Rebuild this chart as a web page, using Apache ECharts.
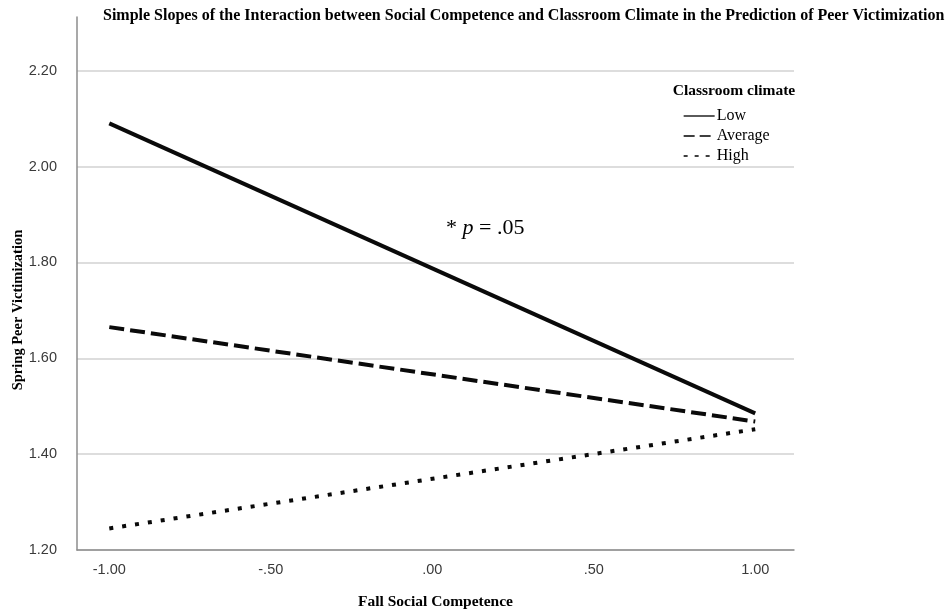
<!DOCTYPE html>
<html>
<head>
<meta charset="utf-8">
<script src="https://cdn.jsdelivr.net/npm/echarts@6/dist/echarts.min.js"></script>
<style>html,body{margin:0;padding:0;background:#fff}#c{width:950px;height:615px}</style>
</head>
<body>
<div id="c"></div>
<script>
var xValues = [-1.00, 1.00];
var lowValues = [2.09, 1.485];
var averageValues = [1.665, 1.468];
var highValues = [1.245, 1.452];
var seriesNames = ['Low', 'Average', 'High'];
var yTicks = ['1.20', '1.40', '1.60', '1.80', '2.00', '2.20'];
var xTicks = ['-1.00', '-.50', '.00', '.50', '1.00'];

function pairs(ys) { return xValues.map(function (x, i) { return [x, ys[i]]; }); }

var serif = '"Liberation Serif", "DejaVu Serif", serif';
var sans = '"Liberation Sans", Arial, sans-serif';
var noSymbol = {color: 'rgba(0,0,0,0)', borderWidth: 0, opacity: 0};

var chart = echarts.init(document.getElementById('c'), null, {renderer: 'canvas'});
chart.setOption({
  backgroundColor: '#fff',
  animation: false,
  title: [
    {text: 'Simple Slopes of the Interaction between Social Competence and Classroom Climate in the Prediction of Peer Victimization',
     left: 98, top: 3, textStyle: {fontFamily: serif, fontWeight: 'bold', fontSize: 16, color: '#000'}},
    {text: 'Classroom climate', left: 729, top: 78, textAlign: 'center',
     textStyle: {fontFamily: serif, fontWeight: 'bold', fontSize: 15.5, color: '#000'}}
  ],
  legend: {
    orient: 'vertical', left: 678, top: 103, itemWidth: 31, itemHeight: 14, itemGap: 4,
    itemStyle: noSymbol,
    textStyle: {fontFamily: serif, fontSize: 16, color: '#000', padding: [0, 0, 0, -3]},
    data: [
      {name: 'Low', itemStyle: noSymbol, lineStyle: {width: 1.3, type: 'solid', color: '#000'}},
      {name: 'Average', itemStyle: noSymbol, lineStyle: {width: 1.3, type: [11, 5], color: '#000'}},
      {name: 'High', itemStyle: noSymbol, lineStyle: {width: 1.3, type: [4, 7], color: '#000'}}
    ]
  },
  grid: {left: 77, right: 156, top: 17, bottom: 56, containLabel: false},
  xAxis: {
    type: 'value', min: -1.1, max: 1.12, interval: 0.05,
    name: 'Fall Social Competence', nameLocation: 'middle', nameGap: 44,
    nameTextStyle: {fontFamily: serif, fontWeight: 'bold', fontSize: 15.5, color: '#000'},
    axisLine: {show: true, onZero: false, lineStyle: {color: '#8c8c8c', width: 1.5}},
    axisTick: {show: false},
    splitLine: {show: false},
    axisLabel: {
      margin: 12, fontFamily: sans, fontSize: 14.5, color: '#3a3a3a', showMaxLabel: false, showMinLabel: false,
      formatter: function (v) {
        var k = Math.round(v * 2);
        if (Math.abs(v * 2 - k) > 1e-6 || k < -2 || k > 2) return '';
        return xTicks[k + 2];
      }
    }
  },
  yAxis: {
    type: 'value', min: 1.2, max: 2.312, interval: 0.2,
    axisLine: {show: true, onZero: false, lineStyle: {color: '#8c8c8c', width: 1.5}},
    axisTick: {show: false},
    splitLine: {show: true, lineStyle: {color: ['#d2d2d2', '#d2d2d2', '#d2d2d2', '#d2d2d2', '#d2d2d2', '#d2d2d2', 'rgba(0,0,0,0)'], width: 1.5}},
    axisLabel: {
      margin: 20, fontFamily: sans, fontSize: 14.5, color: '#3a3a3a',
      formatter: function (v) {
        var k = Math.round((v - 1.2) / 0.2);
        if (Math.abs((v - 1.2) / 0.2 - k) > 1e-6 || k < 0 || k >= yTicks.length) return '';
        return yTicks[k];
      }
    }
  },
  graphic: [
    {type: 'text', x: 18, y: 310, rotation: Math.PI / 2,
     style: {text: 'Spring Peer Victimization', fontFamily: serif, fontWeight: 'bold', fontSize: 14.5,
             fill: '#000', align: 'center', verticalAlign: 'middle'}},
    {type: 'text', left: 446, top: 217,
     style: {text: '{a|* }{b|p}{a| = .05}', rich: {
       a: {fontFamily: serif, fontSize: 22, fill: '#000'},
       b: {fontFamily: serif, fontSize: 22, fontStyle: 'italic', fill: '#000'}
     }}}
  ],
  series: [
    {name: seriesNames[0], type: 'line', data: pairs(lowValues), symbol: 'none',
     lineStyle: {color: '#0a0a0a', width: 4, type: 'solid', cap: 'butt'}, itemStyle: {color: '#000'}},
    {name: seriesNames[1], type: 'line', data: pairs(averageValues), symbol: 'none',
     lineStyle: {color: '#0a0a0a', width: 4, type: [15, 6], cap: 'butt'}, itemStyle: {color: '#000'}},
    {name: seriesNames[2], type: 'line', data: pairs(highValues), symbol: 'none',
     lineStyle: {color: '#0a0a0a', width: 4, type: [4, 9], cap: 'butt'}, itemStyle: {color: '#000'}}
  ]
});
</script>
</body>
</html>
